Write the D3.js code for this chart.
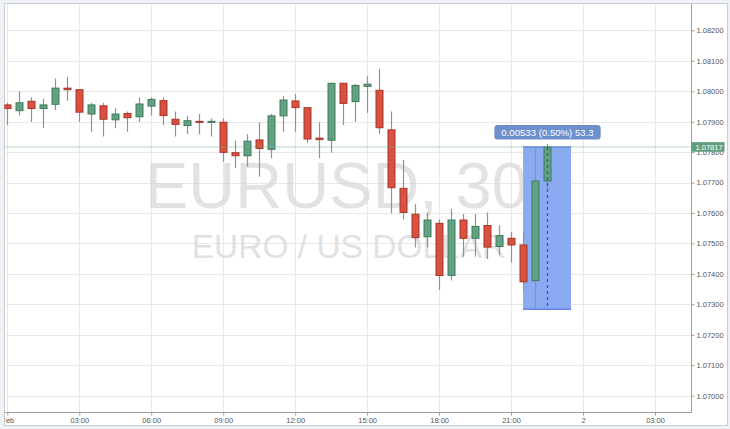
<!DOCTYPE html>
<html><head><meta charset="utf-8">
<script src="https://cdn.jsdelivr.net/npm/d3@7"></script>
<style>
html,body{margin:0;padding:0;background:#eef2f6;}
svg{display:block;font-family:"Liberation Sans",Arial,sans-serif;}
</style>
</head><body>
<svg id="chart" width="730" height="429"></svg>
<script>
// ---- data (30-minute EURUSD candles, 1 Feb) ----
const times = ["00:00","00:30","01:00","01:30","02:00","02:30","03:00","03:30","04:00","04:30",
  "05:00","05:30","06:00","06:30","07:00","07:30","08:00","08:30","09:00","09:30",
  "10:00","10:30","11:00","11:30","12:00","12:30","13:00","13:30","14:00","14:30",
  "15:00","15:30","16:00","16:30","17:00","17:30","18:00","18:30","19:00","19:30",
  "20:00","20:30","21:00","21:30","22:00","22:30"];
const opens = [1.07955,1.07936,1.07967,1.07943,1.07957,1.08010,1.08005,1.07925,1.07952,1.07906,
  1.07927,1.07916,1.07951,1.07969,1.07908,1.07887,1.07901,1.07899,1.07898,1.07798,
  1.07788,1.07840,1.07809,1.07919,1.07968,1.07946,1.07846,1.07839,1.08026,1.07966,
  1.08016,1.08003,1.07873,1.07681,1.07596,1.07522,1.07566,1.07395,1.07577,1.07517,
  1.07559,1.07490,1.07517,1.07495,1.07378,1.07705];
const highs = [1.07962,1.08001,1.07980,1.07975,1.08042,1.08047,1.08006,1.07962,1.07962,1.07944,
  1.07933,1.07980,1.07980,1.07980,1.07933,1.07919,1.07925,1.07910,1.07910,1.07837,
  1.07859,1.07898,1.07925,1.07985,1.07991,1.07946,1.07898,1.08028,1.08028,1.08024,
  1.08050,1.08073,1.07933,1.07774,1.07629,1.07602,1.07579,1.07613,1.07597,1.07597,
  1.07602,1.07560,1.07538,1.07537,1.07817,1.07827];
const lows = [1.07888,1.07920,1.07899,1.07879,1.07938,1.07969,1.07899,1.07867,1.07851,1.07878,
  1.07867,1.07899,1.07920,1.07888,1.07851,1.07859,1.07859,1.07851,1.07768,1.07747,
  1.07752,1.07719,1.07780,1.07867,1.07867,1.07831,1.07780,1.07798,1.07889,1.07900,
  1.07929,1.07859,1.07599,1.07579,1.07487,1.07487,1.07347,1.07378,1.07456,1.07456,
  1.07449,1.07461,1.07437,1.07345,1.07284,1.07679];
const closes = [1.07943,1.07962,1.07943,1.07955,1.08010,1.08005,1.07931,1.07955,1.07908,1.07925,
  1.07913,1.07958,1.07973,1.07920,1.07891,1.07903,1.07899,1.07901,1.07799,1.07788,
  1.07836,1.07812,1.07919,1.07971,1.07946,1.07843,1.07841,1.08026,1.07960,1.08019,
  1.08023,1.07880,1.07683,1.07602,1.07519,1.07577,1.07395,1.07577,1.07517,1.07556,
  1.07488,1.07526,1.07495,1.07374,1.07705,1.07817];
const priceTicks = [1.070,1.071,1.072,1.073,1.074,1.075,1.076,1.077,1.078,1.079,1.080,1.081,1.082];
const symbolText = "EURUSD, 30";
const descriptionText = "EURO / US DOLLAR";
const lastPrice = 1.07817;
const measureLow = 1.07284, measureHigh = 1.07817;
const measureStart = "21:30", measureEnd = "23:30", measureMid = "22:30";
const measureText = "0.00533 (0.50%) 53.3";

// ---- layout ----
const svg = d3.select("#chart");
const plot = {l:4.5, t:3.5, r:691.5, b:412.5};
const frame = {l:4.5, t:3.5, r:727.5, b:425.5};
const day0 = Date.UTC(2017,1,1);
const T = s => { const [h,m] = s.split(":").map(Number); return new Date(day0 + (h*60+m)*60000); };

const x = d3.scaleUtc()
  .domain([new Date(day0 - 7*60000), new Date(day0 + (28*60+30)*60000)])
  .range([4.5, 691]);
const y = d3.scaleLinear().domain([1.070, 1.082]).range([395.7, 30.3]);

const candles = times.map((t,i) => ({t:T(t), o:opens[i], h:highs[i], l:lows[i], c:closes[i]}));

// background frame
svg.append("rect").attr("width",730).attr("height",429).attr("fill","#eef2f6");
svg.append("rect").attr("x",frame.l).attr("y",frame.t)
  .attr("width",frame.r-frame.l).attr("height",frame.b-frame.t)
  .attr("fill","#fff").attr("stroke","#c9ccd0");

const defs = svg.append("defs");
defs.append("clipPath").attr("id","plotClip").append("rect")
  .attr("x",plot.l).attr("y",plot.t).attr("width",plot.r-plot.l).attr("height",plot.b-plot.t);
defs.append("clipPath").attr("id","frameClip").append("rect")
  .attr("x",frame.l).attr("y",frame.t).attr("width",frame.r-frame.l).attr("height",frame.b-frame.t);

const g = svg.append("g").attr("clip-path","url(#plotClip)");

// grid
const xTicks = x.ticks(d3.utcHour.every(3));
g.append("g").selectAll("line").data(xTicks).join("line")
  .attr("x1",d=>Math.round(x(d))+0.5).attr("x2",d=>Math.round(x(d))+0.5)
  .attr("y1",plot.t).attr("y2",plot.b).attr("stroke","#e8e8e8");
g.append("g").selectAll("line").data(priceTicks).join("line")
  .attr("y1",d=>Math.round(y(d))+0.5).attr("y2",d=>Math.round(y(d))+0.5)
  .attr("x1",plot.l).attr("x2",plot.r).attr("stroke","#e8e8e8");

// watermark
g.append("text").attr("x",145).attr("y",208).attr("font-size",65)
  .attr("fill","#d8d8d8").attr("fill-opacity",0.75).text(symbolText);
g.append("text").attr("x",349).attr("y",258.3).attr("font-size",33.5).attr("text-anchor","middle")
  .attr("fill","#d8d8d8").attr("fill-opacity",0.75).text(descriptionText);

// measurement rectangle
const mx0 = x(T(measureStart)), mx1 = x(T(measureEnd));
const my0 = y(measureHigh), my1 = y(measureLow);
g.append("rect").attr("x",mx0).attr("y",my0).attr("width",mx1-mx0).attr("height",my1-my0)
  .attr("fill","#8aabf2");
g.append("line").attr("x1",mx0).attr("x2",mx1).attr("y1",my0).attr("y2",my0).attr("stroke","#3b5cf0");
g.append("line").attr("x1",mx0).attr("x2",mx1).attr("y1",my1).attr("y2",my1).attr("stroke","#3b5cf0");

// candles
const cg = g.append("g");
const bw = 7;
cg.selectAll("line.wick").data(candles).join("line").attr("class","wick")
  .attr("x1",d=>Math.round(x(d.t))+0.5).attr("x2",d=>Math.round(x(d.t))+0.5)
  .attr("y1",d=>y(d.h)).attr("y2",d=>y(d.l))
  .attr("stroke","#929292").attr("stroke-width",1.2);
cg.selectAll("rect.body").data(candles).join("rect").attr("class","body")
  .attr("x",d=>Math.round(x(d.t))+0.5-bw/2)
  .attr("y",d=>y(Math.max(d.o,d.c)))
  .attr("width",bw)
  .attr("height",d=>Math.max(1,Math.abs(y(d.o)-y(d.c))))
  .attr("fill",d=>d.c>=d.o?"#62a283":"#d9503e")
  .attr("stroke",d=>d.c>=d.o?"#3f7a5d":"#a6372a")
  .attr("stroke-width",1);

// last price dotted line
g.append("line").attr("x1",plot.l).attr("x2",plot.r)
  .attr("y1",y(lastPrice)).attr("y2",y(lastPrice))
  .attr("stroke","#6fae8d").attr("stroke-dasharray","1,1");

// measurement dashed mid line
const mmx = Math.round(x(T(measureMid)))+0.5;
g.append("line").attr("x1",mmx).attr("x2",mmx).attr("y1",my0).attr("y2",my1)
  .attr("stroke","#2f4fe0").attr("stroke-width",1.3).attr("stroke-dasharray","3,3");

// measurement label
const tip = svg.append("g");
const tipText = tip.append("text").attr("x",mmx).attr("y",my0-10.5)
  .attr("text-anchor","middle").attr("font-size",9.6).attr("fill","#fff").text(measureText);
const tw = tipText.node().getComputedTextLength();
tip.insert("rect","text").attr("x",mmx-tw/2-7).attr("y",my0-22).attr("width",tw+14).attr("height",14.5)
  .attr("rx",3).attr("fill","#6d90cc");

// right price axis
const yAxis = d3.axisRight(y).tickValues(priceTicks).tickFormat(d3.format(".5f"))
  .tickSizeInner(3).tickSizeOuter(0).tickPadding(2);
const ya = svg.append("g").attr("transform",`translate(${plot.r},0)`).call(yAxis);
ya.select(".domain").remove();
ya.selectAll("line").attr("stroke","#9a9a9a");
ya.selectAll("text").attr("font-size",7.5).attr("fill","#555").attr("font-family","Liberation Sans, Arial, sans-serif");
svg.append("line").attr("x1",plot.r).attr("x2",plot.r).attr("y1",plot.t).attr("y2",plot.b).attr("stroke","#a0a0a0");

// bottom time axis
const fmt = d => {
  if (d3.utcMonth(d) < d && true) {}
  if (+d3.utcMonth(d) === +d) return d3.utcFormat("%b")(d);
  if (+d3.utcDay(d) === +d) return d3.utcFormat("%-d")(d);
  return d3.utcFormat("%H:%M")(d);
};
const xAxis = d3.axisBottom(x).tickValues(xTicks).tickFormat(fmt)
  .tickSizeInner(3).tickSizeOuter(0).tickPadding(2);
const xa = svg.append("g").attr("clip-path","url(#frameClip)")
  .append("g").attr("transform",`translate(0,${plot.b})`).call(xAxis);
xa.select(".domain").remove();
xa.selectAll("line").attr("stroke","#9a9a9a");
xa.selectAll("text").attr("font-size",7.5).attr("fill","#555").attr("font-family","Liberation Sans, Arial, sans-serif");
svg.append("line").attr("x1",plot.l).attr("x2",plot.r).attr("y1",plot.b).attr("y2",plot.b).attr("stroke","#a0a0a0");

// last price label
const ly = y(lastPrice);
svg.append("rect").attr("x",plot.r).attr("y",ly-4.8).attr("width",33).attr("height",9.6).attr("fill","#5f9d7c");
svg.append("text").attr("x",plot.r+4).attr("y",ly).attr("dy","0.35em")
  .attr("font-size",7.5).attr("fill","#fff").text(d3.format(".5f")(lastPrice));
</script>
</body></html>
